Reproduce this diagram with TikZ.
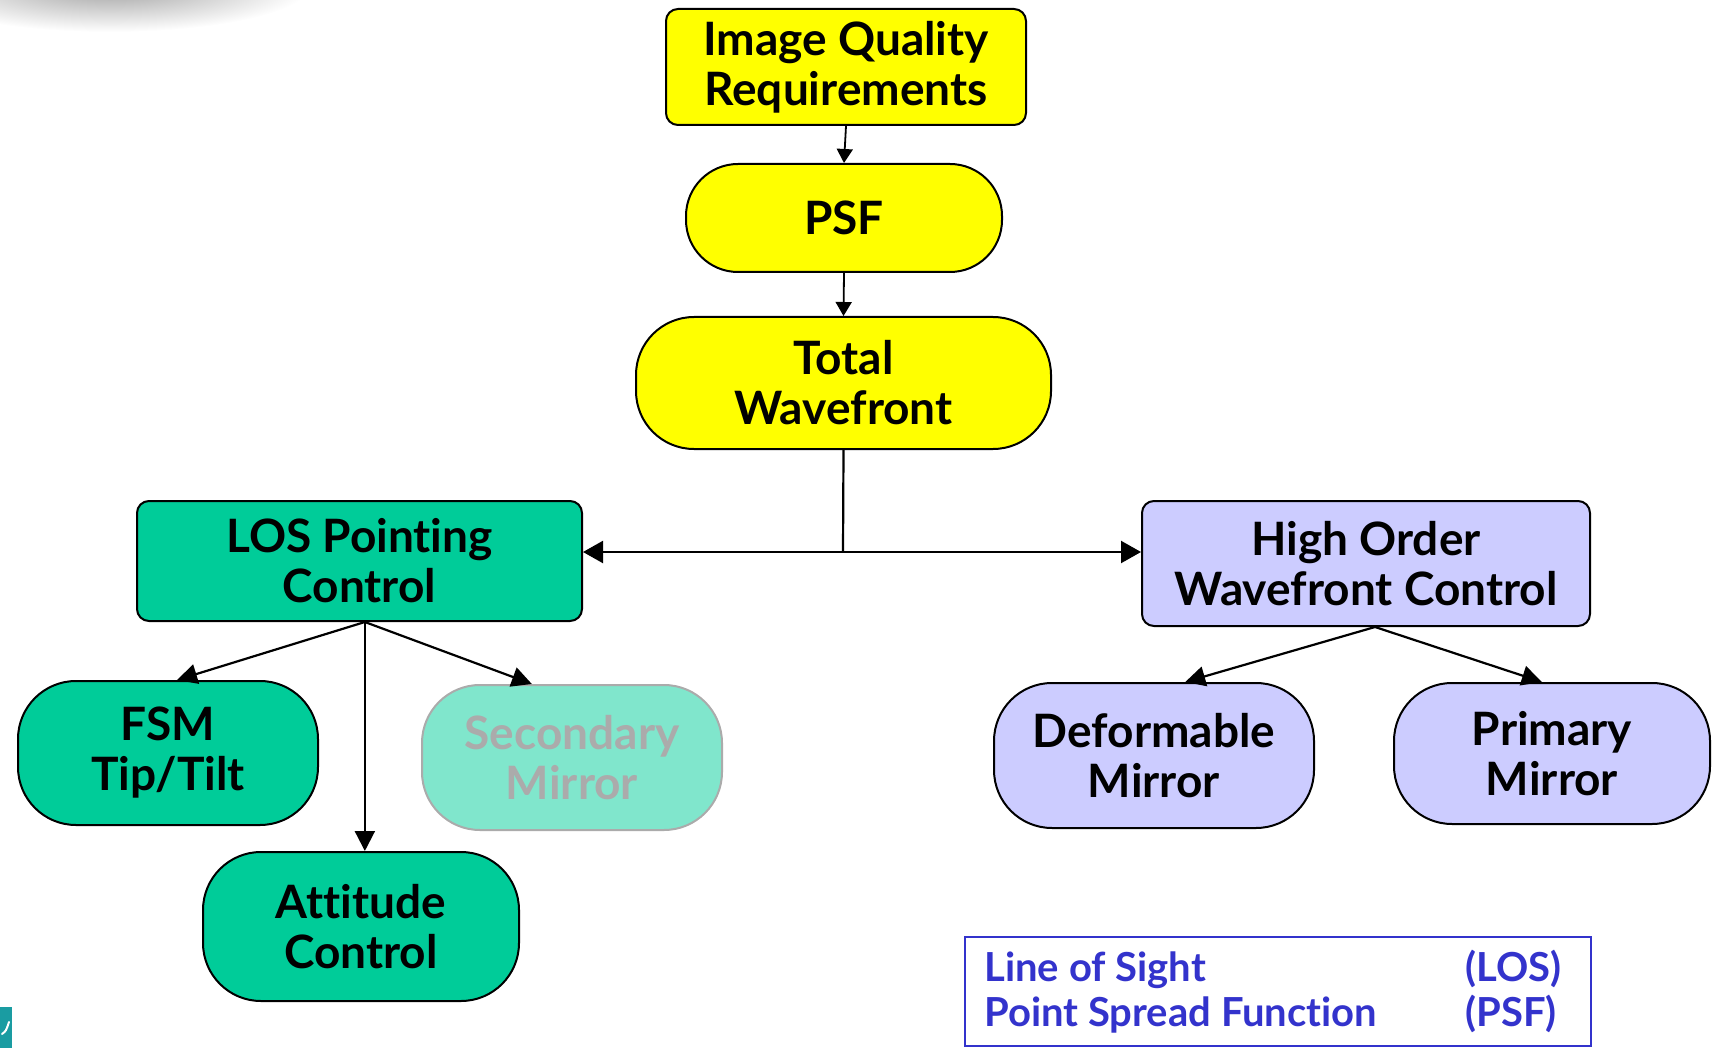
\documentclass[tikz,border=0pt]{standalone}
\usepackage{fontspec}
\setmainfont{Lato}[Ligatures={NoCommon}]
\usetikzlibrary{arrows.meta,calc}
\definecolor{iqyellow}{HTML}{FFFF00}
\definecolor{losteal}{HTML}{00CC99}
\definecolor{wflav}{HTML}{CCCCFF}
\definecolor{legblue}{HTML}{3333CC}
\definecolor{smgray}{HTML}{ABABAB}
\definecolor{cornerteal}{HTML}{1A9CA2}

\begin{document}
\begin{tikzpicture}[x=0.5pt,y=-0.5pt,
  box/.style={draw=black, line width=1pt, align=center, inner sep=0pt,
    font=\fontsize{23}{25}\selectfont\bfseries},
  pill/.style={box, rounded corners=29pt},
  card/.style={box, rounded corners=6pt},
  smalllink/.style={line width=0.9pt, -{Triangle[length=7pt,width=8pt]}},
  link/.style={line width=1.1pt, -{Triangle[length=10pt,width=10pt]}},
  legtext/.style={text=legblue, inner sep=0pt, font=\fontsize{20}{22}\selectfont\bfseries}
]
\useasboundingbox (0,0) rectangle (1724,1048);

% soft shadow in the upper left corner
\begin{scope}
  \clip (0,0) rectangle (1724,1048);
  \shade[inner color=gray!75, outer color=white] (110,-14) ellipse [x radius=100pt, y radius=23pt];
\end{scope}
% small mark in the lower left corner
\fill[cornerteal] (0,1007) rectangle (12,1048);
\draw[white, line width=1pt, line cap=round] (2,1034) .. controls (6,1031) .. (9,1022);

% top chain
\node[card, fill=iqyellow, minimum width=180pt, minimum height=58pt] (iqr) at (846,67) {Image Quality\\Requirements};
\node[pill, rounded corners=26pt, fill=iqyellow, minimum width=158pt, minimum height=54pt] (psf) at (844,218) {PSF};
\node[pill, fill=iqyellow, minimum width=207.5pt, minimum height=66pt] (twf) at (843.5,383) {Total\\Wavefront};

% control branches
\node[card, fill=losteal, minimum width=222.5pt, minimum height=60pt] (los) at (359.5,561) {LOS Pointing\\Control};
\node[card, fill=wflav, minimum width=224pt, minimum height=62.5pt] (howc) at (1366,563.5) {High Order\\Wavefront Control};

% actuators
\node[pill, fill=losteal, minimum width=150pt, minimum height=72pt] (fsm) at (168,753) {FSM\\Tip/Tilt};
\node[pill, fill=losteal!50!white, draw=smgray, text=smgray, minimum width=150pt, minimum height=72.5pt] (sec) at (572,757.5) {Secondary\\Mirror};
\node[pill, fill=losteal, minimum width=158pt, minimum height=74.5pt] (att) at (361,926.5) {Attitude\\Control};
\node[pill, fill=wflav, minimum width=160pt, minimum height=72.5pt] (dm) at (1154,755.5) {Deformable\\Mirror};
\node[pill, fill=wflav, minimum width=158pt, minimum height=70.5pt] (pm) at (1552,753.5) {Primary\\Mirror};

% legend
\node[draw=legblue, line width=1pt, minimum width=313pt, minimum height=54.5pt, inner sep=0pt] (legend) at (1278,991.5) {};
\node[legtext, anchor=base west] (l1) at ($(legend.north west)+(20,45)$) {Line of Sight};
\node[legtext, anchor=base west] (l2) at ($(legend.north west)+(501,45)$) {(LOS)};
\node[legtext, anchor=base west] (l3) at ($(legend.north west)+(20,90)$) {Point Spread Function};
\node[legtext, anchor=base west] (l4) at ($(legend.north west)+(501,90)$) {(PSF)};

% connectors
\draw[smalllink] (iqr.south) -- (psf.north);
\draw[smalllink] (psf.south) -- (twf.north);
\coordinate (split) at (843,552);
\draw[line width=1.1pt] (twf.south) -- (split);
\draw[link, -{Triangle[length=10pt,width=11pt]}] (split) -- (split -| los.east);
\draw[link, -{Triangle[length=10pt,width=11pt]}] (split) -- (split -| howc.west);

\coordinate (losfoot) at ($(los.south west)!0.512!(los.south east)$);
\draw[link] (losfoot) -- ($(fsm.north west)!0.53!(fsm.north east)$);
\draw[link] (losfoot) -- ($(sec.north west)!0.367!(sec.north east)$);
\draw[link] (losfoot) -- (losfoot |- att.north);

\coordinate (howcfoot) at ($(howc.south west)!0.52!(howc.south east)$);
\draw[link] (howcfoot) -- ($(dm.north west)!0.597!(dm.north east)$);
\draw[link] (howcfoot) -- ($(pm.north west)!0.468!(pm.north east)$);
\end{tikzpicture}
\end{document}
